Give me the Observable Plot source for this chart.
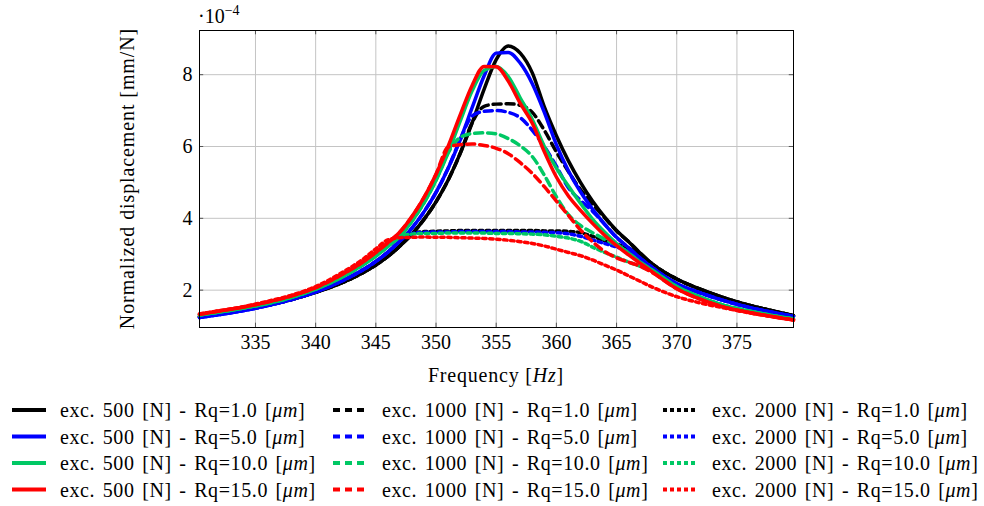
<!DOCTYPE html>
<html><head><meta charset="utf-8">
<script src="https://cdn.jsdelivr.net/npm/d3@7"></script>
<script src="https://cdn.jsdelivr.net/npm/@observablehq/plot@0.6"></script>
<style>
body{margin:0;background:#fff;}
#wrap{position:relative;width:984px;height:506px;font-family:"Liberation Serif",serif;}
#wrap svg{position:absolute;left:0;top:0;}
</style></head><body><div id="wrap"></div>
<script>
// ---- data (values ×1e-4 mm/N) ----
const freq = [330.35, 332, 334, 336, 338, 340, 342, 344, 345, 346, 347, 348, 349, 350, 351, 352, 353, 354, 355, 356, 357, 358, 359, 360, 361, 362, 363, 364, 365, 366, 367, 368, 370, 372, 374, 376, 378, 379.7];
const excitations = ["500", "1000", "2000"];
const roughness = ["1.0", "5.0", "10.0", "15.0"];
const xTicks = [335, 340, 345, 350, 355, 360, 365, 370, 375];
const yTicks = [2, 4, 6, 8];

const exc500_rq1 = [1.26,1.34,1.45,1.58,1.74,1.94,2.18,2.50,2.70,2.94,3.23,3.56,3.97,4.46,5.06,5.80,6.66,7.60,8.42,8.80,8.60,8.05,7.10,6.30,5.60,5.00,4.48,4.04,3.66,3.35,3.02,2.72,2.31,2.02,1.78,1.58,1.42,1.29];
const exc1000_rq1 = [1.26,1.34,1.45,1.58,1.74,1.94,2.18,2.50,2.70,2.94,3.23,3.56,3.97,4.46,5.06,5.80,6.66,7.12,7.18,7.19,7.15,6.95,6.45,5.85,5.30,4.80,4.40,4.02,3.65,3.35,3.02,2.72,2.31,2.02,1.78,1.58,1.42,1.29];
const exc2000_rq1 = [1.26,1.34,1.45,1.58,1.74,1.94,2.18,2.50,2.70,2.94,3.23,3.58,3.63,3.64,3.65,3.66,3.66,3.66,3.66,3.66,3.66,3.66,3.65,3.65,3.64,3.60,3.50,3.38,3.28,3.17,2.98,2.72,2.31,2.02,1.78,1.58,1.42,1.29];

const exc500_rq5 = [1.24,1.32,1.43,1.57,1.74,1.95,2.23,2.58,2.80,3.06,3.37,3.73,4.18,4.72,5.39,6.18,7.08,7.97,8.60,8.62,8.32,7.75,6.95,6.05,5.32,4.74,4.26,3.84,3.47,3.18,2.88,2.62,2.18,1.92,1.70,1.52,1.38,1.27];
const exc1000_rq5 = [1.24,1.32,1.43,1.57,1.74,1.95,2.23,2.58,2.80,3.06,3.37,3.73,4.18,4.72,5.39,6.18,6.85,6.98,7.00,6.95,6.80,6.45,6.00,5.45,4.85,4.50,4.20,3.84,3.47,3.18,2.88,2.62,2.18,1.92,1.70,1.52,1.38,1.27];
const exc2000_rq5 = [1.24,1.32,1.43,1.57,1.74,1.95,2.23,2.58,2.80,3.06,3.37,3.57,3.61,3.62,3.62,3.63,3.63,3.63,3.63,3.63,3.62,3.62,3.61,3.60,3.57,3.50,3.40,3.30,3.20,3.08,2.88,2.62,2.18,1.92,1.70,1.52,1.38,1.27];

const exc500_rq10 = [1.31,1.39,1.50,1.63,1.80,2.03,2.33,2.72,2.95,3.22,3.50,3.92,4.43,5.06,5.82,6.70,7.55,8.12,8.23,7.95,7.35,6.75,6.00,5.40,4.90,4.42,3.98,3.62,3.30,3.03,2.77,2.55,2.10,1.80,1.57,1.42,1.29,1.20];
const exc1000_rq10 = [1.31,1.39,1.50,1.63,1.80,2.03,2.33,2.72,2.95,3.22,3.50,3.92,4.43,5.06,5.82,6.25,6.36,6.38,6.35,6.22,6.02,5.72,5.20,4.60,4.10,3.80,3.60,3.42,3.25,3.03,2.77,2.55,2.10,1.80,1.57,1.42,1.29,1.20];
const exc2000_rq10 = [1.31,1.39,1.50,1.63,1.80,2.03,2.33,2.72,2.95,3.22,3.50,3.56,3.58,3.58,3.59,3.59,3.59,3.59,3.58,3.58,3.57,3.56,3.54,3.50,3.45,3.36,3.20,3.05,2.92,2.78,2.66,2.52,2.09,1.80,1.57,1.42,1.29,1.20];

const exc500_rq15 = [1.33,1.42,1.53,1.67,1.84,2.07,2.40,2.80,3.05,3.32,3.62,4.05,4.58,5.23,6.00,6.87,7.70,8.23,8.22,7.82,7.20,6.65,5.85,5.15,4.62,4.22,3.86,3.53,3.24,2.98,2.74,2.50,2.04,1.74,1.52,1.38,1.26,1.17];
const exc1000_rq15 = [1.33,1.42,1.53,1.67,1.84,2.07,2.40,2.80,3.05,3.32,3.62,4.05,4.58,5.23,5.98,6.05,6.07,6.03,5.95,5.80,5.55,5.25,4.88,4.48,4.08,3.68,3.35,3.08,2.90,2.78,2.66,2.48,2.04,1.74,1.52,1.38,1.26,1.17];
const exc2000_rq15 = [1.34,1.43,1.54,1.69,1.86,2.10,2.45,2.88,3.15,3.40,3.46,3.47,3.48,3.47,3.47,3.46,3.45,3.44,3.42,3.39,3.35,3.30,3.23,3.14,3.05,2.96,2.84,2.70,2.56,2.40,2.24,2.08,1.82,1.64,1.50,1.37,1.26,1.17];

// ---- styling ----
const colors = ["#000000", "#0000ff", "#00c864", "#ff0000"];
const dashes = [null, "8,5", "3.5,3.5"];
const xDomain = [330.35, 379.7];
const yDomain = [0.96, 9.23];

const table = [
  [exc500_rq1, exc1000_rq1, exc2000_rq1],
  [exc500_rq5, exc1000_rq5, exc2000_rq5],
  [exc500_rq10, exc1000_rq10, exc2000_rq10],
  [exc500_rq15, exc1000_rq15, exc2000_rq15]
];

const lineMarks = [];
roughness.forEach((rq, i) => {
  excitations.forEach((ex, j) => {
    const data = table[i][j].map((v, k) => ({f: freq[k], v, rq, ex}));
    lineMarks.push(Plot.line(data, {
      x: "f", y: "v", stroke: colors[i], strokeWidth: 3.5,
      strokeDasharray: dashes[j] || undefined, curve: "monotone-x"
    }));
  });
});

const tickLen = 0.12, tickLenX = 0.35;
const plot = Plot.plot({
  width: 984, height: 390,
  marginLeft: 199, marginRight: 191, marginTop: 30, marginBottom: 63,
  style: {fontFamily: "'Liberation Serif', serif", fontSize: "20px", background: "transparent", color: "black"},
  x: {domain: xDomain, label: null},
  y: {domain: yDomain, label: null},
  marks: [
    Plot.gridX(xTicks, {stroke: "#c4c4c4", strokeOpacity: 1, strokeWidth: 1}),
    Plot.gridY(yTicks, {stroke: "#c4c4c4", strokeOpacity: 1, strokeWidth: 1}),
    Plot.ruleX(xTicks, {y1: yDomain[0], y2: yDomain[0] + tickLen, stroke: "#555"}),
    Plot.ruleX(xTicks, {y1: yDomain[1], y2: yDomain[1] - tickLen, stroke: "#555"}),
    Plot.ruleY(yTicks, {x1: xDomain[0], x2: xDomain[0] + tickLenX, stroke: "#555"}),
    Plot.ruleY(yTicks, {x1: xDomain[1], x2: xDomain[1] - tickLenX, stroke: "#555"}),
    Plot.axisX(xTicks, {tickSize: 0, tickPadding: 7, tickFormat: d => String(d), label: null}),
    Plot.axisY(yTicks, {tickSize: 0, tickPadding: 7, tickFormat: d => String(d), label: null}),
    ...lineMarks,
    Plot.frame({stroke: "black", strokeWidth: 1})
  ]
});
const wrap = document.getElementById("wrap");
wrap.appendChild(plot);

// ---- overlay text & legend ----
const ov = d3.select(wrap).append("svg").attr("width", 984).attr("height", 506)
  .style("font-family", "'Liberation Serif', serif").style("font-size", "20px");

const mult = ov.append("text").attr("x", 198).attr("y", 23);
mult.append("tspan").text("·10");
mult.append("tspan").attr("dy", -8).attr("font-size", 14).text("−4");

ov.append("text").attr("transform", "translate(134,178.5) rotate(-90)")
  .attr("text-anchor", "middle").attr("letter-spacing", "0.9px")
  .text("Normalized displacement [mm/N]");

const xl = ov.append("text").attr("x", 496).attr("y", 382).attr("text-anchor", "middle")
  .attr("letter-spacing", "0.8px");
xl.append("tspan").text("Frequency [");
xl.append("tspan").attr("font-style", "italic").text("Hz");
xl.append("tspan").text("]");

const sampleX = [12, 333, 663];
const textX = [60, 382, 712];
roughness.forEach((rq, i) => {
  const y = 410 + i * 26.5;
  excitations.forEach((ex, j) => {
    ov.append("line").attr("x1", sampleX[j]).attr("x2", sampleX[j] + 34)
      .attr("y1", y).attr("y2", y).attr("stroke", colors[i]).attr("stroke-width", 4)
      .attr("stroke-dasharray", j === 0 ? null : (j === 1 ? "7,5" : "4,3"));
    const t = ov.append("text").attr("x", textX[j]).attr("y", y + 7)
      .attr("letter-spacing", "0.6px").attr("word-spacing", "2px");
    t.append("tspan").text(`exc. ${ex} [N] - Rq=${rq} [`);
    t.append("tspan").attr("font-style", "italic").text("μm");
    t.append("tspan").text("]");
  });
});
</script></body></html>
